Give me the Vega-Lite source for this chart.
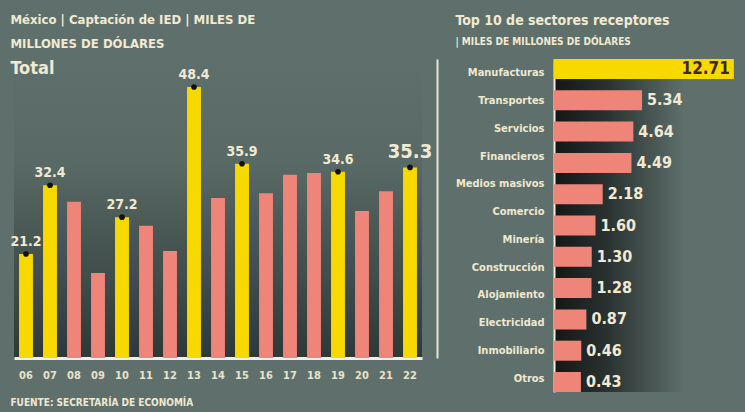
{
  "$schema": "https://vega.github.io/schema/vega-lite/v6.json",
  "background": "#5f706c",
  "padding": {"left": 10, "top": 14, "right": 10, "bottom": 4},
  "spacing": 18,
  "config": {
    "font": "Liberation Sans Narrow, DejaVu Sans Condensed, Roboto Condensed, Roboto, sans-serif",
    "view": {"stroke": null},
    "title": {"color": "#f1ead2", "font": "Liberation Sans Narrow, DejaVu Sans Condensed, Roboto Condensed, Roboto, sans-serif", "subtitleFont": "Liberation Sans Narrow, DejaVu Sans Condensed, Roboto Condensed, Roboto, sans-serif"}
  },
  "datasets": {
    "anual": [
      {"anio": "06", "valor": 21.2, "destacado": true},
      {"anio": "07", "valor": 32.4, "destacado": true},
      {"anio": "08", "valor": 29.7, "destacado": false},
      {"anio": "09", "valor": 18.1, "destacado": false},
      {"anio": "10", "valor": 27.2, "destacado": true},
      {"anio": "11", "valor": 25.8, "destacado": false},
      {"anio": "12", "valor": 21.7, "destacado": false},
      {"anio": "13", "valor": 48.4, "destacado": true},
      {"anio": "14", "valor": 30.3, "destacado": false},
      {"anio": "15", "valor": 35.9, "destacado": true},
      {"anio": "16", "valor": 31.1, "destacado": false},
      {"anio": "17", "valor": 34.1, "destacado": false},
      {"anio": "18", "valor": 34.4, "destacado": false},
      {"anio": "19", "valor": 34.6, "destacado": true},
      {"anio": "20", "valor": 28.2, "destacado": false},
      {"anio": "21", "valor": 31.4, "destacado": false},
      {"anio": "22", "valor": 35.3, "destacado": true}
    ],
    "sectores": [
      {"sector": "Manufacturas"},
      {"sector": "Transportes"},
      {"sector": "Servicios"},
      {"sector": "Financieros"},
      {"sector": "Medios masivos"},
      {"sector": "Comercio"},
      {"sector": "Minería"},
      {"sector": "Construcción"},
      {"sector": "Alojamiento"},
      {"sector": "Electricidad"},
      {"sector": "Inmobiliario"},
      {"sector": "Otros"}
    ],
    "valores": [
      {"orden": 1, "valor": 12.71},
      {"orden": 2, "valor": 5.34},
      {"orden": 3, "valor": 4.64},
      {"orden": 4, "valor": 4.49},
      {"orden": 5, "valor": 2.18},
      {"orden": 6, "valor": 1.60},
      {"orden": 7, "valor": 1.30},
      {"orden": 8, "valor": 1.28},
      {"orden": 9, "valor": 0.87},
      {"orden": 10, "valor": 0.46},
      {"orden": 11, "valor": 0.43}
    ]
  },
  "title": {
    "text": "FUENTE: SECRETARÍA DE ECONOMÍA",
    "orient": "bottom",
    "anchor": "start",
    "fontSize": 10,
    "fontWeight": "bold",
    "color": "#efe8d0",
    "offset": 6
  },
  "hconcat": [
    {
      "width": 408,
      "height": 299,
      "title": {
        "text": ["México | Captación de IED | MILES DE", "MILLONES DE DÓLARES"],
        "subtitle": "Total",
        "anchor": "start",
        "fontSize": 13,
        "fontWeight": "bold",
        "lineHeight": 24,
        "subtitleFontSize": 18,
        "subtitleFontWeight": "bold",
        "subtitleColor": "#f1ead2",
        "subtitlePadding": 9,
        "offset": -19
      },
      "view": {
        "stroke": null,
        "fill": {
          "gradient": "linear", "x1": 0, "y1": 0, "x2": 0, "y2": 1,
          "stops": [
            {"offset": 0, "color": "#5f706c"},
            {"offset": 0.35, "color": "#596965"},
            {"offset": 1, "color": "#2e3937"}
          ]
        }
      },
      "data": {"name": "anual"},
      "encoding": {
        "x": {
          "field": "anio", "type": "ordinal",
          "scale": {"paddingInner": 0.42, "paddingOuter": 0.21},
          "axis": {
            "title": null, "labelAngle": 0, "domainColor": "#eeeeea", "domainWidth": 3,
            "ticks": false, "labelColor": "#e8e2cc", "labelFontSize": 11,
            "labelFontWeight": "bold", "labelPadding": 11
          }
        }
      },
      "layer": [
        {
          "mark": {"type": "bar"},
          "encoding": {
            "y": {
              "field": "valor", "type": "quantitative",
              "scale": {"domain": [4.26, 52.96], "zero": false, "nice": false},
              "axis": {
                "orient": "right", "offset": 15, "domainColor": "#e6e3d6", "domainWidth": 2,
                "ticks": false, "labels": false, "grid": false, "title": null
              }
            },
            "y2": {"datum": 4.26},
            "color": {"condition": {"test": "datum.destacado", "value": "#f7d900"}, "value": "#ef8478"}
          }
        },
        {
          "transform": [{"filter": "datum.destacado"}],
          "mark": {"type": "point", "filled": true, "color": "#111111", "size": 32, "opacity": 1},
          "encoding": {"y": {"field": "valor", "type": "quantitative"}}
        },
        {
          "transform": [{"filter": "datum.destacado"}],
          "mark": {"type": "text", "baseline": "bottom", "dy": -5, "fontWeight": "bold", "color": "#f1ead2"},
          "encoding": {
            "y": {"field": "valor", "type": "quantitative"},
            "text": {"field": "valor", "type": "quantitative", "format": ".1f"},
            "size": {"condition": {"test": "datum.anio === '22'", "value": 20}, "value": 14}
          }
        }
      ]
    },
    {
      "width": 182,
      "height": 333,
      "title": {
        "text": "Top 10 de sectores receptores",
        "subtitle": "|  MILES DE MILLONES DE DÓLARES",
        "anchor": "start",
        "fontSize": 14,
        "fontWeight": "bold",
        "subtitleFontSize": 10,
        "subtitleFontWeight": "bold",
        "subtitleColor": "#f1ead2",
        "subtitlePadding": 9,
        "offset": 12
      },
      "view": {
        "stroke": null,
        "fill": {
          "gradient": "linear", "x1": 0, "y1": 0, "x2": 1, "y2": 0,
          "stops": [
            {"offset": 0, "color": "#141716"},
            {"offset": 0.3, "color": "#2a3331"},
            {"offset": 0.72, "color": "#5f706c"}
          ]
        }
      },
      "layer": [
        {
          "data": {"name": "sectores"},
          "mark": {"type": "text", "opacity": 0},
          "encoding": {
            "y": {
              "field": "sector", "type": "nominal", "sort": null,
              "scale": {"padding": 0.5},
              "axis": {
                "orient": "left", "title": null, "ticks": false, "domainColor": "#efece0",
                "domainWidth": 2, "labelColor": "#efe8d0", "labelFontSize": 11,
                "labelFontWeight": "bold", "labelPadding": 10, "minExtent": 96, "maxExtent": 96
              }
            },
            "text": {"value": ""}
          }
        },
        {
          "data": {"name": "valores"},
          "encoding": {
            "y": {
              "field": "orden", "type": "ordinal",
              "scale": {"paddingInner": 0.36, "paddingOuter": 0},
              "axis": null
            },
            "x": {
              "field": "valor", "type": "quantitative",
              "scale": {"domain": [-1.73, 12.88], "zero": false, "nice": false},
              "axis": null
            }
          },
          "layer": [
            {
              "mark": {"type": "bar"},
              "encoding": {
                "x2": {"datum": -1.73},
                "color": {"condition": {"test": "datum.orden === 1", "value": "#f7d900"}, "value": "#ef8478"}
              }
            },
            {
              "transform": [{"filter": "datum.orden === 1"}],
              "mark": {"type": "text", "align": "right", "dx": -4, "fontSize": 17, "fontWeight": "bold", "color": "#3b2a14"},
              "encoding": {"text": {"field": "valor", "type": "quantitative", "format": ".2f"}}
            },
            {
              "transform": [{"filter": "datum.orden !== 1"}],
              "mark": {"type": "text", "align": "left", "dx": 5, "fontSize": 16, "fontWeight": "bold", "color": "#f1ead2"},
              "encoding": {"text": {"field": "valor", "type": "quantitative", "format": ".2f"}}
            }
          ]
        }
      ],
      "resolve": {"scale": {"y": "independent"}}
    }
  ]
}
